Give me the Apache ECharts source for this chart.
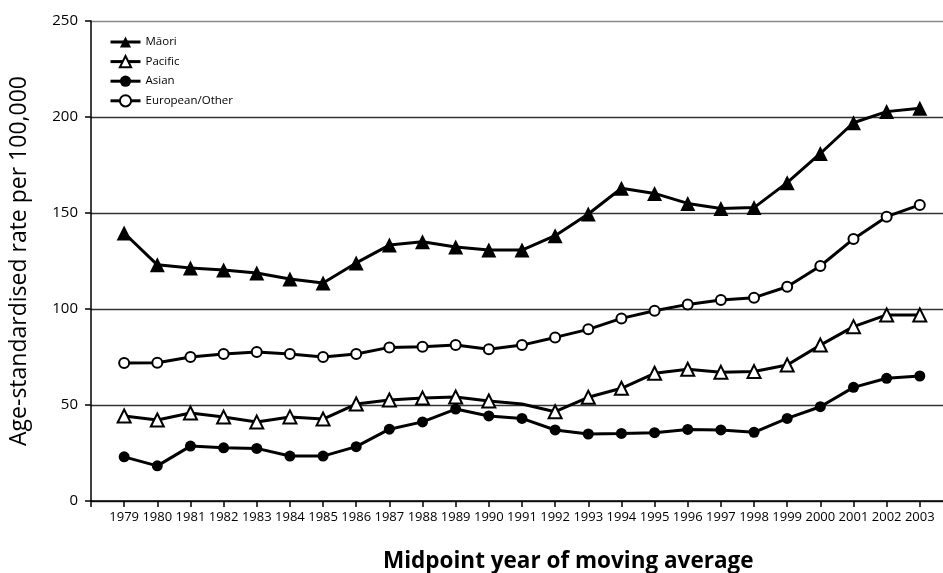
<!DOCTYPE html>
<html>
<head>
<meta charset="utf-8">
<script src="https://cdn.jsdelivr.net/npm/echarts@6/dist/echarts.min.js"></script>
<style>
html,body{margin:0;padding:0;background:#fff;}
#chart{width:943px;height:573px;}
</style>
</head>
<body>
<div id="chart"></div>
<script>
var years = [1979,1980,1981,1982,1983,1984,1985,1986,1987,1988,1989,1990,1991,1992,1993,1994,1995,1996,1997,1998,1999,2000,2001,2002,2003];
var maori = [139.6,123,121.4,120.3,118.7,115.6,113.5,124,133.3,135,132.3,130.7,130.7,138.2,149.5,162.9,160.2,155,152.4,152.8,165.8,181,197,202.8,204.5];
var pacific = [44.3,42.2,45.8,43.7,41.1,43.8,42.7,50.5,52.6,53.6,54.2,52.1,50.5,46.5,54,58.7,66.5,68.6,67,67.4,70.8,81.2,90.8,96.9,96.9];
var asian = [23,18.3,28.6,27.7,27.4,23.4,23.4,28.3,37.4,41.2,47.9,44.3,43,37,34.9,35.2,35.6,37.3,37,35.8,43,49.1,59.2,63.9,65.1];
var european = [71.9,72,75,76.6,77.6,76.6,75,76.6,80,80.3,81.3,79,81.2,85.2,89.4,95.1,99.1,102.4,104.7,105.9,111.6,122.4,136.5,148.1,154.2];
var seriesNames = ['Māori','Pacific','Asian','European/Other'];
var yTicks = [0,50,100,150,200,250];
var hiddenPacificYear = 1991;

function pairs(arr, hideYear){
  return years.map(function(y,i){
    var d = {value:[y, arr[i]]};
    if (hideYear === y) d.symbolSize = 0;
    return d;
  });
}

var chart = echarts.init(document.getElementById('chart'), null, {renderer:'canvas'});
var fontTick = '"Open Sans", "Noto Sans", sans-serif';
function lineSeries(name, arr, symbol, size, filled, hideYear){
  return {
    name: name, type:'line', data: pairs(arr, hideYear),
    symbol: symbol, symbolSize: size, showAllSymbol:true,
    lineStyle:{color:'#000', width:3},
    itemStyle:{color: filled ? '#000' : '#fff', borderColor:'#000', borderWidth: filled ? 0 : 2},
    emphasis:{disabled:true}, animation:false
  };
}
chart.setOption({
  backgroundColor:'#fff',
  animation:false,
  grid:{left:88, right:0, top:21, bottom:72, containLabel:false},
  legend:{
    orient:'vertical', left:104, top:31, itemWidth:30, itemHeight:14, itemGap:7,
    data: seriesNames,
    lineStyle:{width:3, color:'#000'},
    textStyle:{fontSize:11.5, color:'#000', fontFamily:fontTick}
  },
  xAxis:{
    type:'value', min:1978, max:2003.7, interval:1,
    axisLine:{show:true, lineStyle:{color:'#000', width:1.5}},
    axisTick:{show:true, length:6, lineStyle:{color:'#000', width:1.5}},
    splitLine:{show:false},
    axisLabel:{
      margin:10, fontSize:13, color:'#000', fontFamily:fontTick, showMaxLabel:false,
      formatter:function(v){ return (v%1===0 && years.indexOf(v)>=0) ? String(v) : ''; }
    },
  },
  yAxis:{
    type:'value', min:yTicks[0], max:yTicks[yTicks.length-1], interval:50,
    name:'Age-standardised rate per 100,000', nameLocation:'middle', nameGap:60,
    nameTextStyle:{fontSize:23, color:'#000', fontFamily:fontTick},
    axisLine:{show:true, lineStyle:{color:'#000', width:1.5}},
    axisTick:{show:true, length:6, lineStyle:{color:'#000', width:1.5}},
    axisLabel:{margin:13, fontSize:15, color:'#000', fontFamily:fontTick},
    splitLine:{show:true, lineStyle:{color:['#333','#333','#333','#333','#333','#888'], width:1.3}}
  },
  graphic:[{
    type:'text', left:383, top:550,
    style:{text:'Midpoint year of moving average', font:'bold 22.5px "Open Sans", "Noto Sans", sans-serif', fill:'#000'}
  }],
  series:[
    lineSeries(seriesNames[0], maori, 'triangle', 15, true),
    lineSeries(seriesNames[1], pacific, 'triangle', 13, false, hiddenPacificYear),
    lineSeries(seriesNames[2], asian, 'circle', 11, true),
    lineSeries(seriesNames[3], european, 'circle', 10, false)
  ]
});
</script>
</body>
</html>
